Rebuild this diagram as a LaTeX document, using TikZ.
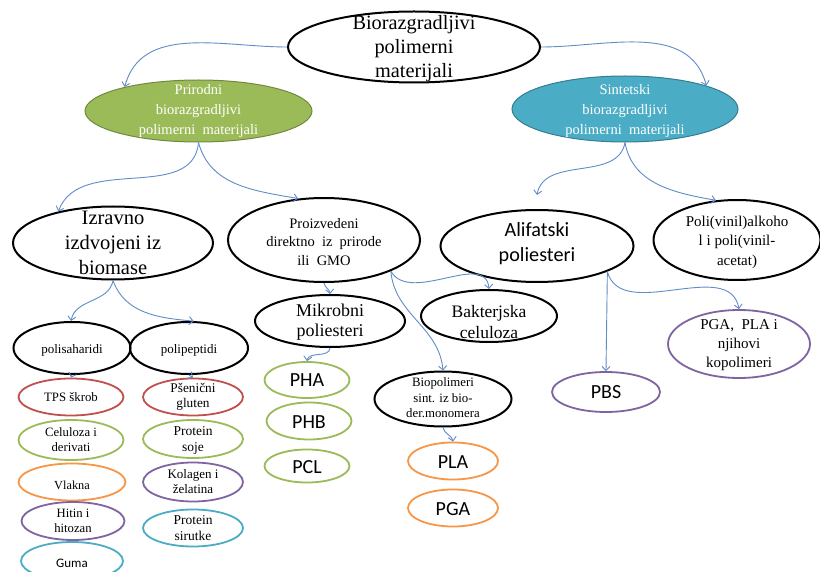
\documentclass[tikz,border=0pt]{standalone}
\usepackage{fontspec}
\setmainfont{Liberation Serif}
\newfontfamily\calib{Carlito}
\usetikzlibrary{shapes.geometric,arrows.meta}
\definecolor{arr}{RGB}{96,140,200}
\definecolor{cred}{HTML}{C0504D}
\definecolor{cgreen}{HTML}{9BBB59}
\definecolor{cgreend}{HTML}{71893F}
\definecolor{corange}{HTML}{F79646}
\definecolor{cpurple}{HTML}{8064A2}
\definecolor{ccyan}{HTML}{4BACC6}
\definecolor{ccyand}{HTML}{357D91}
\begin{document}
\begin{tikzpicture}[x=1pt,y=-1pt,
  ell/.style={ellipse, draw=black, line width=2pt, inner sep=0pt},
  cell/.style={ellipse, draw=#1, line width=1.8pt, inner sep=0pt},
  txt/.style={align=center, inner sep=0pt},
  conn/.style={draw=arr, line width=0.9pt, -{Straight Barb[length=4pt,width=8pt]}},
]
\useasboundingbox (0,0) rectangle (820,572);
\fill[white] (0,0) rectangle (820,572);

% top
\node[ell, minimum width=252, minimum height=71] (top) at (414,47) {};
\node[txt, font=\fontsize{20.3}{24}\selectfont] (topt) at (414,49) {Biorazgradljivi\\polimerni\\materijali};

% level 1
\node[ellipse, fill=cgreen, draw=cgreend, line width=1pt, minimum width=227, minimum height=62] (pri) at (198.5,111) {};
\node[txt, text=white, font=\fontsize{14.5}{20}\selectfont] (prit) at (198.5,111) {Prirodni\\biorazgradljivi\\polimerni~ materijali};
\node[ellipse, fill=ccyan, draw=ccyand, line width=1pt, minimum width=226, minimum height=66] (sin) at (625,109) {};
\node[txt, text=white, font=\fontsize{14.5}{20}\selectfont] (sint) at (625,111) {Sintetski\\biorazgradljivi\\polimerni~ materijali};

% level 2
\node[ell, minimum width=200, minimum height=73] (izr) at (113,243) {};
\node[txt, font=\fontsize{20.5}{25}\selectfont] (izrt) at (113,243) {Izravno\\izdvojeni iz\\biomase};
\node[ell, minimum width=192, minimum height=84] (pro) at (324,240) {};
\node[txt, font=\fontsize{14.5}{18.5}\selectfont] (prot) at (324,242) {Proizvedeni\\direktno~ iz~ prirode\\ili~ GMO};
\node[ell, minimum width=193, minimum height=72] (ali) at (537,246) {};
\node[txt, font=\calib\fontsize{20.2}{25}\selectfont] (alit) at (537,244) {Alifatski\\poliesteri};
\node[ell, minimum width=167, minimum height=80] (pol) at (737,240) {};
\node[txt, font=\fontsize{15}{19.5}\selectfont] (polt) at (737,242) {Poli(vinil)alkoho\\l i poli(vinil-\\acetat)};

% level 3
\node[ell, minimum width=150, minimum height=52] (mik) at (330,321) {};
\node[txt, font=\fontsize{18}{20}\selectfont] (mikt) at (330,322) {Mikrobni\\poliesteri};
\node[ell, minimum width=136, minimum height=52] (bak) at (489,316) {};
\node[txt, font=\fontsize{17.5}{20.5}\selectfont] (bakt) at (489,322) {Bakterjska\\celuloza};
\node[ell, minimum width=117, minimum height=52] (pols) at (72,348) {};
\node[txt, font=\fontsize{13}{15}\selectfont] (polst) at (72,350) {polisaharidi};
\node[ell, minimum width=118, minimum height=52] (polp) at (189,348) {};
\node[txt, font=\fontsize{13}{15}\selectfont] (polpt) at (189,350) {polipeptidi};
\node[ell, minimum width=137, minimum height=55] (bio) at (443,399) {};
\node[txt, font=\fontsize{12.8}{15.5}\selectfont] (biot) at (443,398) {Biopolimeri\\sint. iz bio-\\der.monomera};
\node[cell=cpurple, minimum width=108, minimum height=40] (pbs) at (606,392) {};
\node[txt, font=\calib\fontsize{20}{24}\selectfont] (pbst) at (606,392) {PBS};
\node[cell=cpurple, minimum width=142, minimum height=68] (pgp) at (739,344) {};
\node[txt, font=\fontsize{15}{19}\selectfont] (pgpt) at (739,345) {PGA,~ PLA i\\njihovi\\kopolimeri};

% polisaharidi column
\node[cell=cred, minimum width=105, minimum height=37] (tps) at (71,397) {};
\node[txt, font=\fontsize{12.8}{15}\selectfont] (tpst) at (71,397) {TPS škrob};
\node[cell=cgreen, minimum width=105, minimum height=40] (cel) at (71,440) {};
\node[txt, font=\fontsize{12.7}{15}\selectfont] (celt) at (71,440) {Celuloza i\\derivati};
\node[cell=corange, minimum width=107, minimum height=37] (vla) at (72,482) {};
\node[txt, font=\fontsize{12.3}{15}\selectfont] (vlat) at (72,485) {Vlakna};
\node[cell=cpurple, minimum width=103, minimum height=38] (hit) at (73,521) {};
\node[txt, font=\fontsize{12.7}{15}\selectfont] (hitt) at (73,521) {Hitin i\\hitozan};
\node[cell=ccyan, minimum width=102, minimum height=38] (gum) at (72,561) {};
\node[txt, font=\calib\fontsize{13}{15}\selectfont] (gumt) at (72,563) {Guma};

% polipeptidi column
\node[cell=cred, minimum width=100, minimum height=37] (pse) at (193,397) {};
\node[txt, font=\fontsize{13.3}{15}\selectfont] (pset) at (193,397) {Pšenični\\gluten};
\node[cell=cgreen, minimum width=100, minimum height=38] (soj) at (193,439) {};
\node[txt, font=\fontsize{13.5}{16}\selectfont] (sojt) at (193,440) {Protein\\soje};
\node[cell=cpurple, minimum width=100, minimum height=39] (kol) at (193,482) {};
\node[txt, font=\fontsize{13}{15}\selectfont] (kolt) at (193,482) {Kolagen i\\želatina};
\node[cell=ccyan, minimum width=100, minimum height=37] (sir) at (193,528) {};
\node[txt, font=\fontsize{13.5}{16}\selectfont] (sirt) at (193,528) {Protein\\sirutke};

% mikrobni column
\node[cell=cgreen, minimum width=85, minimum height=36] (pha) at (307,380) {};
\node[txt, font=\calib\fontsize{20}{24}\selectfont] (phat) at (307,380) {PHA};
\node[cell=cgreen, minimum width=85, minimum height=37] (phb) at (309,421) {};
\node[txt, font=\calib\fontsize{20}{24}\selectfont] (phbt) at (309,422) {PHB};
\node[cell=cgreen, minimum width=85, minimum height=33] (pcl) at (307,466) {};
\node[txt, font=\calib\fontsize{20}{24}\selectfont] (pclt) at (307,467) {PCL};

% bio column
\node[cell=corange, minimum width=90, minimum height=37] (pla) at (453,461) {};
\node[txt, font=\calib\fontsize{20}{24}\selectfont] (plat) at (453,462) {PLA};
\node[cell=corange, minimum width=90, minimum height=37] (pga) at (453,508) {};
\node[txt, font=\calib\fontsize{20}{24}\selectfont] (pgat) at (453,509) {PGA};

% connectors
\draw[conn] (top.west) to[out=180,in=75] (pri.162);
\draw[conn] (top.east) to[out=0,in=105] (sin.16);
\draw[conn] (pri.south) to[out=265,in=70] (izr.150);
\draw[conn] (pri.south) to[out=-75,in=170] (pro.122);
\draw[conn] (sin.south) to[out=260,in=80] ([yshift=14pt]ali.north);
\draw[conn] (sin.south) to[out=-80,in=170] (pol.118);
\draw[conn] (izr.south) to[out=260,in=80] (pols.92);
\draw[conn] (izr.south) to[out=-70,in=175] (polp.80);
\draw[conn] (pols.south) -- (tps.north);
\draw[conn] (polp.south) -- (pse.north);
\draw[conn] (pro.south) to[out=-80,in=95] (mik.north);
\draw[conn] (mik.south) to[out=-95,in=80] (pha.north);
\draw[conn] (pro.-25) to[out=-60,in=95] (bak.north);
\draw[conn] (pro.-25) to[out=-85,in=95] (bio.north);
\draw[conn] (bio.south) to[out=-80,in=100] (pla.north);
\draw[conn] (ali.-20) -- (pbs.north);
\draw[conn] (ali.-20) to[out=-75,in=100] (pgp.north);
\end{tikzpicture}
\end{document}
